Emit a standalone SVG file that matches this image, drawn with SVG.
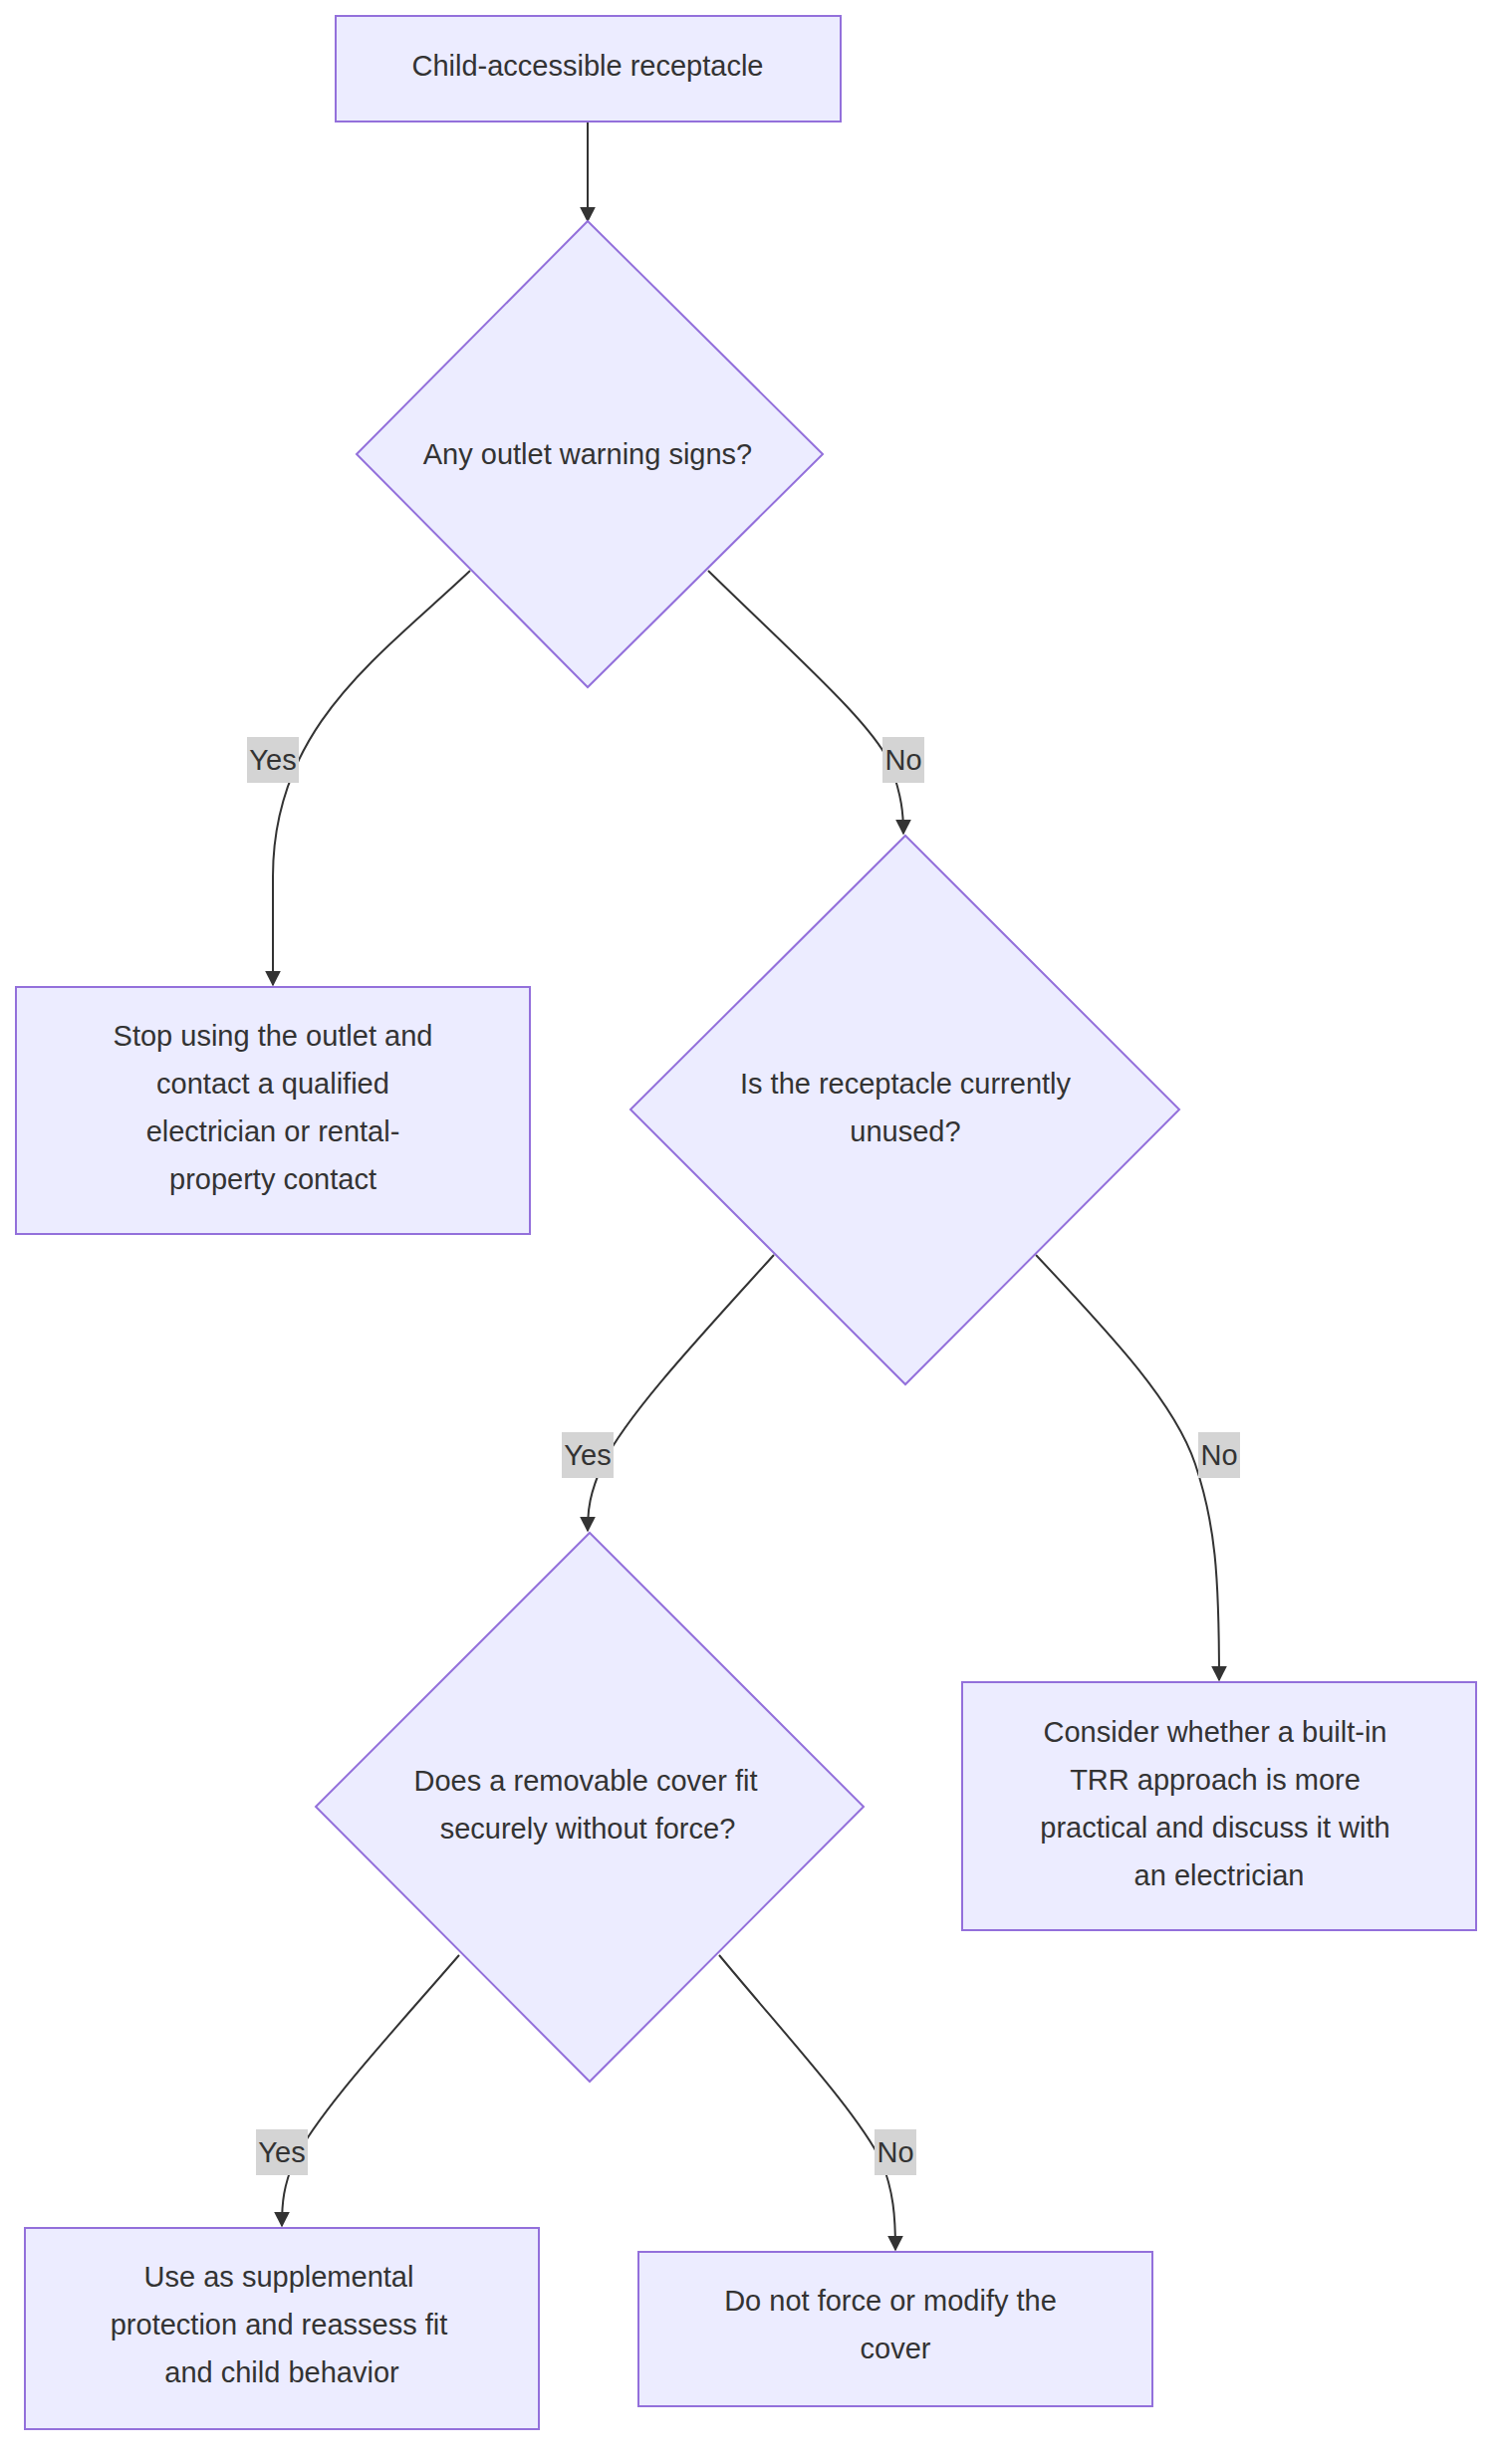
<svg xmlns="http://www.w3.org/2000/svg" width="1510" height="2474" viewBox="0 0 1510 2474">
<style>
.n{fill:#ececff;stroke:#9370db;stroke-width:2}
.t{font-family:"Liberation Sans",Arial,sans-serif;font-size:29px;fill:#333;text-anchor:middle}
.e{fill:none;stroke:#333;stroke-width:2;marker-end:url(#a)}
.lb{fill:#d4d4d4}
</style>
<defs><marker id="a" viewBox="0 0 10 10" refX="9" refY="5" markerWidth="8" markerHeight="8" orient="auto"><path d="M0,0L10,5L0,10z" fill="#333"/></marker></defs>
<rect width="1510" height="2474" fill="#fff"/>
<g id="edges">
<path class="e" d="M590,122 L590,222"/>
<path class="e" d="M472,573 C380,660 274,730 274,880 L274,989"/>
<path class="e" d="M711,573 C800,660 880,730 895,770 C905,800 907,815 907,837"/>
<path class="e" d="M777,1260 C700,1345 630,1420 605,1470 C592,1500 590,1515 590,1537"/>
<path class="e" d="M1040,1260 C1120,1345 1180,1410 1200,1470 C1220,1530 1224,1580 1224,1687"/>
<path class="e" d="M461,1963 C390,2045 320,2120 295,2170 C285,2195 283,2210 283,2235"/>
<path class="e" d="M722,1963 C790,2045 860,2120 885,2170 C897,2200 899,2225 899,2259"/>
</g>
<g id="labels">
<rect class="lb" x="248" y="740" width="52" height="46"/><text class="t" x="274" y="773">Yes</text>
<rect class="lb" x="886" y="740" width="42" height="46"/><text class="t" x="907" y="773">No</text>
<rect class="lb" x="564" y="1438" width="52" height="46"/><text class="t" x="590" y="1471">Yes</text>
<rect class="lb" x="1203" y="1438" width="42" height="46"/><text class="t" x="1224" y="1471">No</text>
<rect class="lb" x="257" y="2138" width="52" height="46"/><text class="t" x="283" y="2171">Yes</text>
<rect class="lb" x="878" y="2138" width="42" height="46"/><text class="t" x="899" y="2171">No</text>
</g>
<g id="n1"><rect class="n" x="337" y="16" width="507" height="106"/><text class="t" x="590" y="76">Child-accessible receptacle</text></g>
<g id="n2"><polygon class="n" points="590,222 826,456 590,690 358,456"/><text class="t" x="590" y="466">Any outlet warning signs?</text></g>
<g id="n3"><rect class="n" x="16" y="991" width="516" height="248"/><text class="t" x="274"><tspan x="274" y="1050">Stop using the outlet and</tspan><tspan x="274" y="1098">contact a qualified</tspan><tspan x="274" y="1146">electrician or rental-</tspan><tspan x="274" y="1194">property contact</tspan></text></g>
<g id="n4"><polygon class="n" points="909,839 1184,1114 909,1390 633,1114"/><text class="t"><tspan x="909" y="1098">Is the receptacle currently</tspan><tspan x="909" y="1146">unused?</tspan></text></g>
<g id="n5"><rect class="n" x="966" y="1689" width="516" height="249"/><text class="t"><tspan x="1220" y="1749">Consider whether a built-in</tspan><tspan x="1220" y="1797">TRR approach is more</tspan><tspan x="1220" y="1845">practical and discuss it with</tspan><tspan x="1224" y="1893">an electrician</tspan></text></g>
<g id="n6"><polygon class="n" points="592,1539 867,1814 592,2090 317,1814"/><text class="t"><tspan x="588" y="1798">Does a removable cover fit</tspan><tspan x="590" y="1846">securely without force?</tspan></text></g>
<g id="n7"><rect class="n" x="25" y="2237" width="516" height="202"/><text class="t"><tspan x="280" y="2296">Use as supplemental</tspan><tspan x="280" y="2344">protection and reassess fit</tspan><tspan x="283" y="2392">and child behavior</tspan></text></g>
<g id="n8"><rect class="n" x="641" y="2261" width="516" height="155"/><text class="t"><tspan x="894" y="2320">Do not force or modify the</tspan><tspan x="899" y="2368">cover</tspan></text></g>
</svg>
